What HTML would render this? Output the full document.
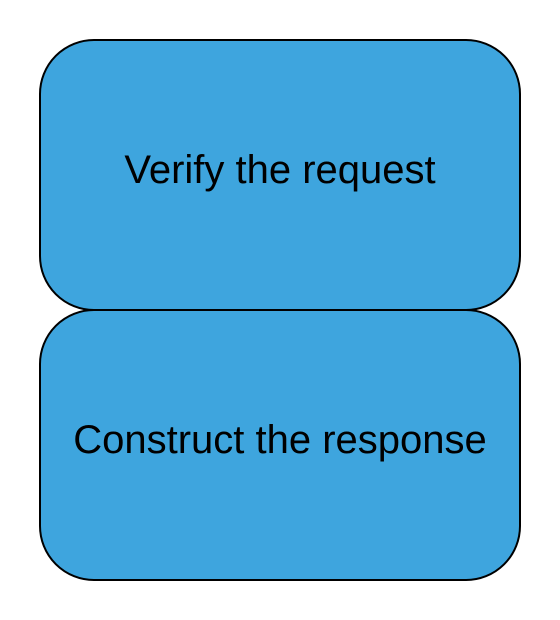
<!DOCTYPE html>
<html><head><style>html,body{margin:0;padding:0;background:#fff;}svg{display:block}</style></head>
<body>
<svg width="560" height="620" viewBox="0 0 560 620" xmlns="http://www.w3.org/2000/svg">
<rect x="40" y="40" width="480" height="270" rx="54" ry="54" fill="#3ea5de" stroke="#000" stroke-width="2"/>
<rect x="40" y="310" width="480" height="270" rx="54" ry="54" fill="#3ea5de" stroke="#000" stroke-width="2"/>
<text x="280" y="183" text-anchor="middle" font-family="Liberation Sans, sans-serif" font-size="40" fill="#000">Verify the request</text>
<text x="280" y="453" text-anchor="middle" font-family="Liberation Sans, sans-serif" font-size="40" fill="#000">Construct the response</text>
</svg>
</body></html>
